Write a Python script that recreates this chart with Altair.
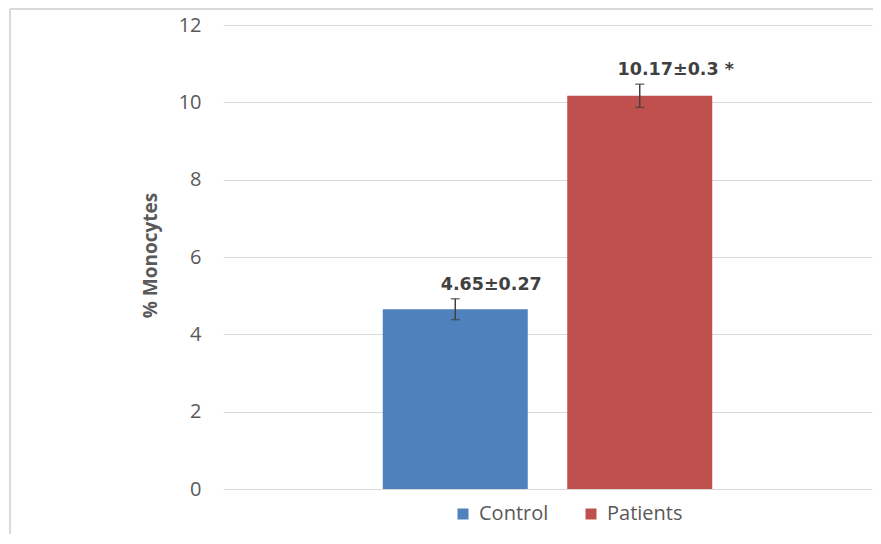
import altair as alt
import pandas as pd

groups = ["Control", "Patients"]
means = [4.65, 10.17]
sems = [0.27, 0.3]
labels = ["4.65±0.27", "10.17±0.3 *"]
colors = ["#4F81BD", "#C0504D"]
y_ticks = [0, 2, 4, 6, 8, 10, 12]

df = pd.DataFrame({
    "group": groups,
    "mean": means,
    "sem": sems,
    "label": labels,
})
df["lo"] = df["mean"] - df["sem"]
df["hi"] = df["mean"] + df["sem"]

xscale = alt.Scale(domain=groups, paddingInner=0.214, paddingOuter=0.866)
yscale = alt.Scale(domain=[0, 12])

base = alt.Chart(df)

bars = base.mark_bar(strokeWidth=0).encode(
    x=alt.X("group:N", scale=xscale, axis=None),
    y=alt.Y("mean:Q", scale=yscale,
            axis=alt.Axis(values=y_ticks, title="% Monocytes", domain=False, ticks=False,
                          labelPadding=22, gridColor="#D9D9D9", gridWidth=1.2,
                          labelColor="#595959", labelFontSize=20, labelFont="Open Sans",
                          titleFont="Open Sans", titleFontSize=19, titleFontWeight="bold",
                          titleColor="#595959", titleX=-73, titleY=230, titleAlign="center",
                          titleBaseline="middle", titleAngle=-90)),
    color=alt.Color("group:N", scale=alt.Scale(domain=groups, range=colors),
                    legend=alt.Legend(title=None, orient="none", legendX=230, legendY=479,
                                      direction="horizontal", symbolType="square",
                                      symbolSize=121, symbolStrokeWidth=0,
                                      labelFontSize=20, labelFont="Open Sans",
                                      labelColor="#595959", labelOffset=6,
                                      columnPadding=32)),
)

err = base.mark_rule(color="#404040", strokeWidth=1.5).encode(
    x=alt.X("group:N", scale=xscale),
    y=alt.Y("lo:Q", scale=yscale),
    y2="hi:Q",
)
caps_lo = base.mark_tick(color="#404040", size=9, thickness=1.5).encode(
    x=alt.X("group:N", scale=xscale),
    y=alt.Y("lo:Q", scale=yscale),
)
caps_hi = base.mark_tick(color="#404040", size=9, thickness=1.5).encode(
    x=alt.X("group:N", scale=xscale),
    y=alt.Y("hi:Q", scale=yscale),
)

text = base.mark_text(font="DejaVu Sans", fontWeight="bold", fontSize=17.5,
                      color="#404040", baseline="bottom", dy=-5, dx=36).encode(
    x=alt.X("group:N", scale=xscale),
    y=alt.Y("hi:Q", scale=yscale),
    text="label:N",
)

frame_df = pd.DataFrame({"a": [0]})
frame_left = alt.Chart(frame_df).mark_rule(color="#D9D9D9", strokeWidth=2).encode(
    x=alt.value(-213), y=alt.value(-16), y2=alt.value(520))
frame_top = alt.Chart(frame_df).mark_rule(color="#D9D9D9", strokeWidth=2).encode(
    x=alt.value(-213), x2=alt.value(660), y=alt.value(-16))

chart = alt.layer(frame_left, frame_top, bars, err, caps_lo, caps_hi, text).properties(
    width=649, height=464,
    padding={"left": 215, "top": 17, "right": 1, "bottom": 45},
    autosize=alt.AutoSizeParams(type="none"),
).configure(background="white").configure_view(strokeWidth=0, stroke="transparent")

chart.save("out.html", embed_options={"renderer": "svg", "actions": False})
